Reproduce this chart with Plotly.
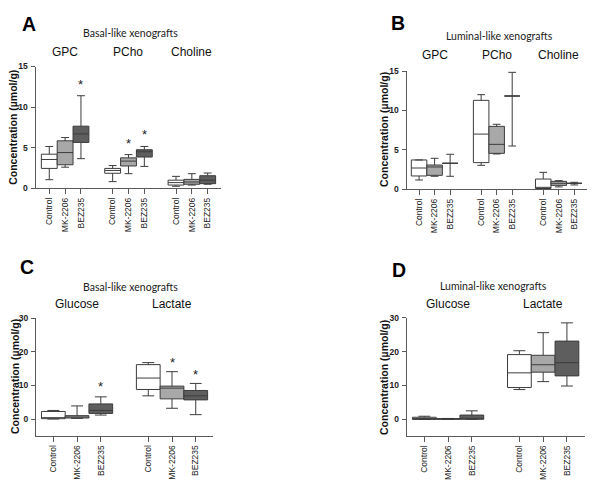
import plotly.graph_objects as go

# The page body has an 8px margin, so the figure is drawn 8px in from the window corner.
OFF = 8
W, H = 600 - OFF, 484 - OFF

treatments = ["Control", "MK-2206", "BEZ235"]
fills = ["#ffffff", "#a8a8a8", "#5e5e5e"]

# ---------------- Panel A: Basal-like, choline metabolites ----------------
A_groups = ["GPC", "PCho", "Choline"]
A_low = [[1.06, 0.82, 0.25], [2.6, 1.8, 0.4], [3.65, 2.7, 0.5]]
A_q1 = [[2.45, 1.85, 0.4], [2.9, 2.75, 0.5], [5.65, 3.85, 0.57]]
A_med = [[3.55, 2.2, 0.7], [4.4, 3.35, 0.78], [6.7, 4.5, 1.0]]
A_q3 = [[4.2, 2.45, 1.0], [5.85, 3.75, 1.1], [7.65, 4.75, 1.55]]
A_high = [[5.15, 2.8, 1.47], [6.25, 4.15, 1.8], [11.4, 5.15, 1.88]]
A_stars = [("GPC", "BEZ235", 13.1), ("PCho", "MK-2206", 5.85), ("PCho", "BEZ235", 6.95)]

# ---------------- Panel B: Luminal-like, choline metabolites ----------------
B_groups = ["GPC", "PCho", "Choline"]
B_low = [[1.18, 3.04, 0.05], [1.65, 4.48, 0.3], [1.65, 5.49, 0.55]]
B_q1 = [[1.69, 3.38, 0.1], [1.77, 4.56, 0.5], [3.3, 11.83, 0.76]]
B_med = [[2.7, 7.0, 0.25], [2.83, 5.7, 0.76], [3.3, 11.83, 0.76]]
B_q3 = [[3.72, 11.28, 1.3], [3.08, 7.98, 1.01], [3.3, 11.83, 0.76]]
B_high = [[3.72, 12.0, 2.15], [3.93, 8.24, 1.1], [4.44, 14.83, 0.89]]
B_stars = []

# ---------------- Panel C: Basal-like, glucose / lactate ----------------
C_groups = ["Glucose", "Lactate"]
C_low = [[0.0, 6.9], [0.2, 3.2], [1.18, 1.3]]
C_q1 = [[0.1, 8.8], [0.3, 6.0], [1.67, 5.7]]
C_med = [[0.4, 12.2], [0.5, 9.2], [2.55, 6.9]]
C_q3 = [[2.25, 16.2], [1.0, 9.8], [4.5, 8.5]]
C_high = [[2.55, 16.8], [3.9, 14.1], [6.6, 10.6]]
C_stars = [("Glucose", "BEZ235", 10.5), ("Lactate", "MK-2206", 17.8), ("Lactate", "BEZ235", 14.1)]

# ---------------- Panel D: Luminal-like, glucose / lactate ----------------
D_groups = ["Glucose", "Lactate"]
D_low = [[-0.1, 8.75], [-0.1, 11.1], [-0.05, 9.8]]
D_q1 = [[-0.1, 9.35], [-0.05, 13.9], [-0.05, 12.8]]
D_med = [[0.05, 13.7], [0.05, 16.1], [0.05, 16.7]]
D_q3 = [[0.55, 19.1], [0.15, 18.9], [1.2, 23.1]]
D_high = [[0.85, 20.25], [0.2, 25.6], [2.45, 28.5]]
D_stars = []

A_ticks = [0, 5, 10, 15]
CD_ticks = [0, 10, 20, 30]
ytitle = "Concentration (µmol/g)"

GROUP_STEP = 4

def px_x(p):
    return (p - OFF) / W

def px_y(p):
    return 1 - (p - OFF) / H

panels = [
    dict(name="A", sub="Basal-like xenografts", groups=A_groups, low=A_low, q1=A_q1, med=A_med,
         q3=A_q3, high=A_high, stars=A_stars, yticks=A_ticks, yrange=[0, 15],
         xdom=(35.5, 221), ydom=(66.5, 188.3), xrange=[-0.87, 10.84],
         letter=(29.5, 24), subpos=(131, 32.5), glab_y=51.5, ytit=(12.8, 127)),
    dict(name="B", sub="Luminal-like xenografts", groups=B_groups, low=B_low, q1=B_q1, med=B_med,
         q3=B_q3, high=B_high, stars=B_stars, yticks=A_ticks, yrange=[0, 15],
         xdom=(406.5, 587), ydom=(71, 189.3), xrange=[-0.81, 10.82],
         letter=(398, 23.5), subpos=(499.5, 35.5), glab_y=55, ytit=(384, 130)),
    dict(name="C", sub="Basal-like xenografts", groups=C_groups, low=C_low, q1=C_q1, med=C_med,
         q3=C_q3, high=C_high, stars=C_stars, yticks=CD_ticks, yrange=[-5, 30],
         xdom=(36, 213.3), ydom=(318.3, 435.8), xrange=[-0.73, 6.74],
         letter=(27, 267), subpos=(130.5, 287), glab_y=303.5, ytit=(15, 377)),
    dict(name="D", sub="Luminal-like xenografts", groups=D_groups, low=D_low, q1=D_q1, med=D_med,
         q3=D_q3, high=D_high, stars=D_stars, yticks=CD_ticks, yrange=[-5, 30],
         xdom=(406.7, 585), ydom=(317.8, 436), xrange=[-0.74, 6.76],
         letter=(398.5, 270), subpos=(493, 286), glab_y=304, ytit=(384, 378)),
]

fig = go.Figure()
annotations = []
line_col = "#3c3c3c"
axis_col = "#5a5a5a"
tick_font = dict(family="Liberation Sans, Arial", size=8.5, color="#222222")
ytick_font = dict(family="Liberation Sans, Arial", size=8.5, color="#222222", weight="bold")

for i, p in enumerate(panels):
    suffix = "" if i == 0 else str(i + 1)
    xa, ya = "x" + suffix, "y" + suffix
    ng = len(p["groups"])
    for t, tr in enumerate(treatments):
        xs = [GROUP_STEP * g + t for g in range(ng)]
        fig.add_trace(go.Box(
            x=xs, q1=p["q1"][t], median=p["med"][t], q3=p["q3"][t],
            lowerfence=p["low"][t], upperfence=p["high"][t],
            fillcolor=fills[t], line=dict(color=line_col, width=1),
            width=1.0, whiskerwidth=0.5, boxpoints=False,
            name=tr, showlegend=False, xaxis=xa, yaxis=ya,
        ))
    tickvals = [GROUP_STEP * g + t for g in range(ng) for t in range(3)]
    ticktext = [tr for g in range(ng) for tr in treatments]
    fig.layout["xaxis" + suffix] = dict(
        domain=[px_x(p["xdom"][0]), px_x(p["xdom"][1])], range=p["xrange"],
        anchor=ya, tickvals=tickvals, ticktext=ticktext, tickangle=-90,
        ticks="outside", ticklen=5, tickcolor=axis_col, tickwidth=1,
        showline=True, linecolor=axis_col, linewidth=1, showgrid=False,
        zeroline=False, tickfont=tick_font, fixedrange=True, automargin=False,
    )
    fig.layout["yaxis" + suffix] = dict(
        domain=[px_y(p["ydom"][1]), px_y(p["ydom"][0])], range=p["yrange"],
        anchor=xa, tickvals=p["yticks"], ticks="outside", ticklen=4,
        tickcolor=axis_col, tickwidth=1, showline=True, linecolor=axis_col,
        linewidth=1, showgrid=False, zeroline=False, tickfont=ytick_font,
        ticklabelstandoff=1, automargin=False,
    )
    # panel letter
    annotations.append(dict(text="<b>%s</b>" % p["name"], x=px_x(p["letter"][0]), y=px_y(p["letter"][1]),
                            xref="paper", yref="paper", showarrow=False, xanchor="center", yanchor="middle",
                            font=dict(family="Liberation Sans, Arial", size=19.5, color="#000000")))
    # subtitle
    annotations.append(dict(text=p["sub"], x=px_x(p["subpos"][0]), y=px_y(p["subpos"][1]),
                            xref="paper", yref="paper", showarrow=False, xanchor="center", yanchor="middle",
                            font=dict(family="Lato", size=10.5, color="#222222")))
    # group labels
    for g, gname in enumerate(p["groups"]):
        annotations.append(dict(text=gname, x=GROUP_STEP * g + 1, y=px_y(p["glab_y"]),
                                xref=xa, yref="paper", showarrow=False, xanchor="center", yanchor="middle",
                                font=dict(family="Liberation Sans, Arial", size=12, color="#111111")))
    # y title
    annotations.append(dict(text="<b>%s</b>" % ytitle, x=px_x(p["ytit"][0]), y=px_y(p["ytit"][1]),
                            xref="paper", yref="paper", showarrow=False, textangle=-90,
                            xanchor="center", yanchor="middle",
                            font=dict(family="Liberation Sans, Arial", size=10.5, color="#111111")))
    # significance stars
    for gname, tr, yv in p["stars"]:
        xv = GROUP_STEP * p["groups"].index(gname) + treatments.index(tr)
        annotations.append(dict(text="*", x=xv, y=yv, xref=xa, yref=ya, showarrow=False,
                                xanchor="center", yanchor="middle", yshift=-3,
                                font=dict(family="Liberation Sans, Arial", size=13, color="#222222")))

fig.update_layout(
    template="none",
    width=W, height=H, margin=dict(l=0, r=0, t=0, b=0, pad=0),
    paper_bgcolor="white", plot_bgcolor="white",
    boxmode="overlay", showlegend=False, annotations=annotations,
)

fig.write_html("out.html")
